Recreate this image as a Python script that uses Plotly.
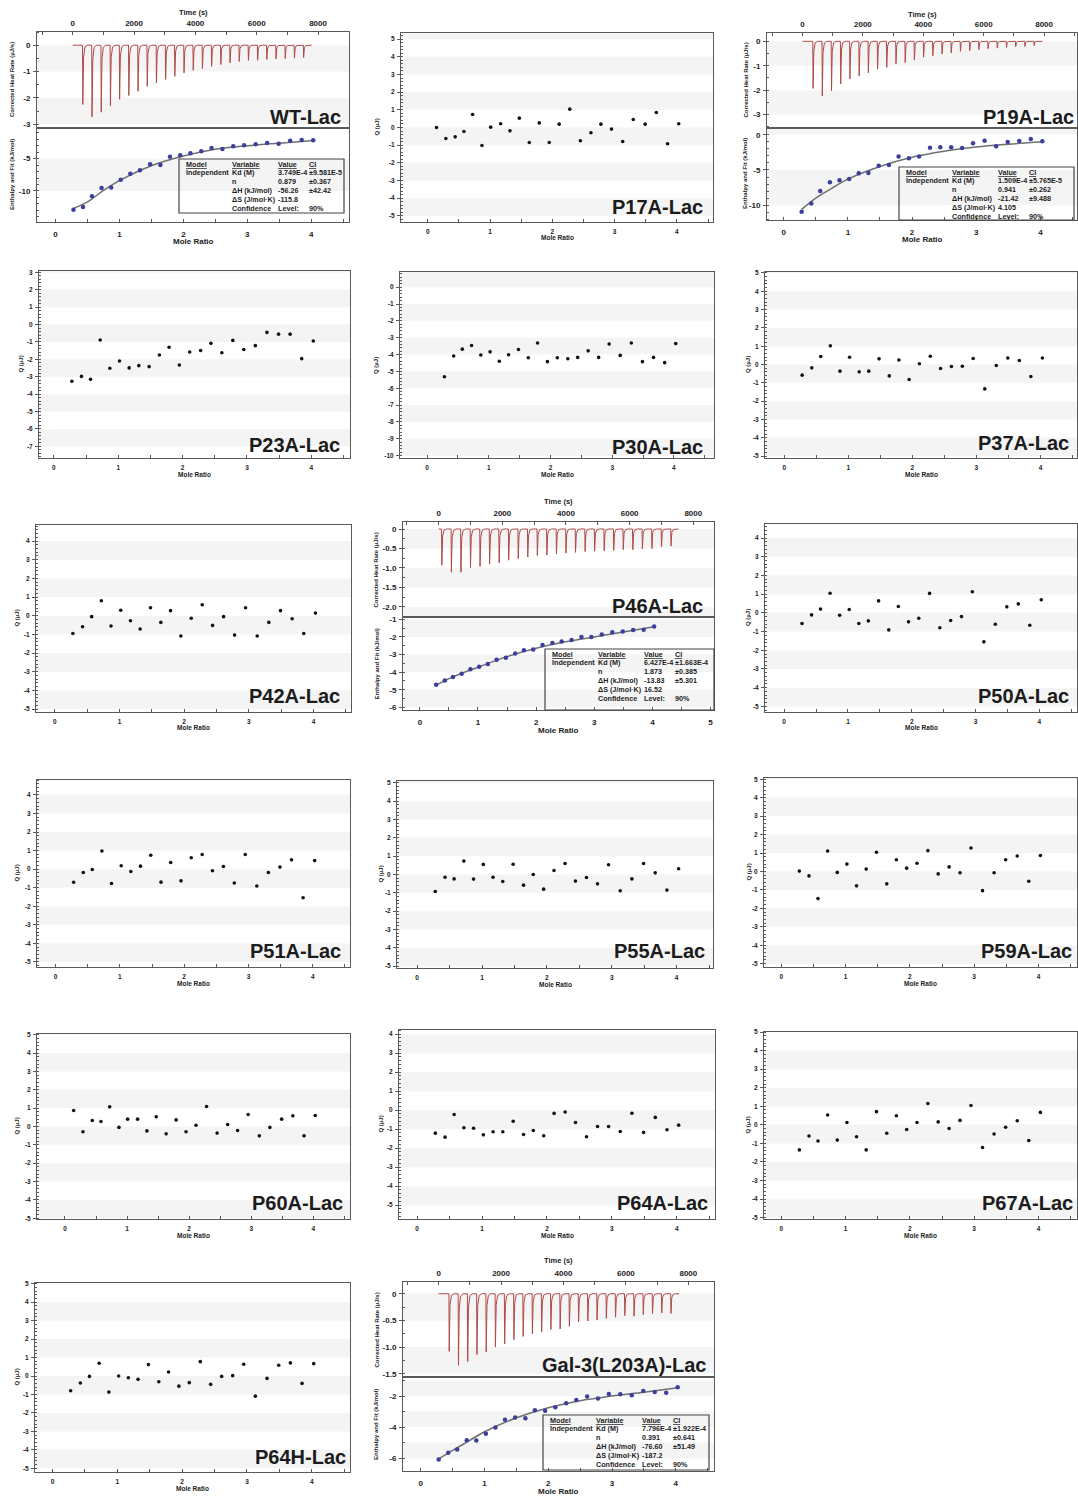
import math
import plotly.graph_objects as go

# ------------------------------------------------------------------ data
MR24 = [0.28, 0.43, 0.57, 0.72, 0.87, 1.02, 1.17, 1.32, 1.48, 1.64, 1.79, 1.95,
        2.11, 2.28, 2.44, 2.61, 2.78, 2.95, 3.13, 3.31, 3.49, 3.67, 3.85, 4.03]
MR25 = [0.14, 0.29, 0.44, 0.58, 0.72, 0.87, 1.01, 1.17, 1.32, 1.47, 1.63, 1.79, 1.95,
        2.11, 2.28, 2.45, 2.62, 2.78, 2.95, 3.13, 3.30, 3.49, 3.67, 3.85, 4.03]

P17A_Q = [0.0, -0.62, -0.53, -0.23, 0.74, -1.02, 0.02, 0.21, -0.19, 0.53, -0.85, 0.26, -0.85,
          0.19, 1.04, -0.75, -0.30, 0.19, -0.09, -0.79, 0.45, 0.19, 0.85, -0.92, 0.21]
P23A_Q = [-3.26, -2.98, -3.15, -0.89, -2.51, -2.09, -2.49, -2.36, -2.42, -1.75, -1.30, -2.32,
          -1.58, -1.49, -1.08, -1.62, -0.91, -1.43, -1.21, -0.45, -0.55, -0.55, -1.96, -0.94]
P30A_Q = [-5.32, -4.09, -3.68, -3.46, -4.03, -3.84, -4.40, -4.01, -3.70, -4.19, -3.31, -4.42,
          -4.19, -4.25, -4.17, -3.78, -4.17, -3.37, -4.05, -3.31, -4.42, -4.17, -4.48, -3.35]
P37A_Q = [-0.58, -0.18, 0.44, 1.02, -0.36, 0.40, -0.40, -0.36, 0.31, -0.62, 0.25, -0.82,
          0.04, 0.45, -0.22, -0.11, -0.09, 0.33, -1.33, -0.05, 0.36, 0.22, -0.65, 0.36]
P42A_Q = [-0.95, -0.59, -0.05, 0.80, -0.55, 0.29, -0.27, -0.71, 0.43, -0.36, 0.27, -1.09,
          -0.14, 0.59, -0.52, -0.05, -1.04, 0.43, -1.09, -0.36, 0.27, -0.16, -0.95, 0.14]
P50A_Q = [-0.57, -0.11, 0.20, 1.05, -0.13, 0.18, -0.57, -0.43, 0.64, -0.91, 0.34, -0.48,
          -0.29, 1.04, -0.80, -0.41, -0.20, 1.13, -1.55, -0.61, 0.32, 0.48, -0.66, 0.70]
P51A_Q = [-0.71, -0.18, -0.02, 0.98, -0.77, 0.18, -0.13, 0.16, 0.75, -0.70, 0.36, -0.63,
          0.61, 0.79, -0.09, 0.14, -0.75, 0.79, -0.91, -0.18, 0.11, 0.50, -1.54, 0.46]
P55A_Q = [-0.93, -0.15, -0.24, 0.73, -0.25, 0.55, -0.15, -0.38, 0.56, -0.58, 0.0, -0.80,
          0.22, 0.60, -0.36, -0.16, -0.51, 0.53, -0.89, -0.24, 0.60, 0.09, -0.85, 0.31]
P59A_Q = [0.02, -0.24, -1.47, 1.11, -0.05, 0.40, -0.78, 0.13, 1.04, -0.67, 0.64, 0.18,
          0.45, 1.13, -0.13, 0.25, -0.07, 1.27, -1.04, -0.07, 0.64, 0.84, -0.53, 0.87]
P60A_Q = [0.87, -0.29, 0.33, 0.27, 1.07, -0.05, 0.40, 0.40, -0.24, 0.53, -0.40, 0.36, -0.29,
          0.07, 1.09, -0.36, 0.11, -0.22, 0.65, -0.51, -0.05, 0.40, 0.58, -0.51, 0.60]
P64A_Q = [-1.21, -1.42, -0.23, -0.93, -0.95, -1.30, -1.14, -1.14, -0.58, -1.28, -1.07, -1.35,
          -0.17, -0.10, -0.65, -1.40, -0.86, -0.86, -1.12, -0.16, -1.17, -0.38, -1.03, -0.79]
P67A_Q = [-1.35, -0.60, -0.87, 0.53, -0.82, 0.13, -0.64, -1.35, 0.71, -0.45, 0.49, -0.25,
          0.13, 1.15, 0.16, -0.20, 0.24, 1.04, -1.22, -0.49, -0.13, 0.22, -0.84, 0.67]
P64H_Q = [-0.80, -0.38, -0.02, 0.69, -0.87, 0.0, -0.09, -0.18, 0.62, -0.31, 0.22, -0.55,
          -0.36, 0.78, -0.45, -0.02, 0.02, 0.64, -1.09, -0.13, 0.58, 0.71, -0.40, 0.67]

# ITC raw thermograms: injection times (s) and peak heat rates (uJ/s)
WT_INJ_T = [320, 620, 920, 1220, 1520, 1820, 2120, 2420, 2720, 3020, 3320, 3620, 3920,
            4220, 4520, 4820, 5120, 5420, 5720, 6020, 6320, 6620, 6920, 7220, 7520]
WT_INJ_PEAK = [-2.25, -2.72, -2.54, -2.29, -2.05, -1.91, -1.75, -1.56, -1.43, -1.30, -1.18,
               -1.05, -0.95, -0.89, -0.80, -0.73, -0.67, -0.62, -0.58, -0.57, -0.54, -0.52,
               -0.51, -0.49, -0.47]
WT_RUN_END = 7790
P19A_INJ_T = [340, 645, 950, 1255, 1560, 1865, 2170, 2475, 2780, 3085, 3390, 3695, 4000,
              4305, 4610, 4915, 5220, 5525, 5830, 6135, 6440, 6745, 7050, 7355, 7660]
P19A_INJ_PEAK = [-1.93, -2.24, -2.02, -1.75, -1.54, -1.42, -1.29, -1.14, -1.07, -0.92, -0.87,
                 -0.76, -0.65, -0.59, -0.52, -0.48, -0.41, -0.39, -0.34, -0.30, -0.28, -0.25,
                 -0.22, -0.21, -0.17]
P19A_RUN_END = 7950
P46A_INJ_T = [90, 390, 690, 990, 1290, 1590, 1890, 2190, 2490, 2790, 3090, 3390, 3690,
              3990, 4290, 4590, 4890, 5190, 5490, 5790, 6090, 6390, 6690, 6990, 7290]
P46A_INJ_PEAK = [-0.93, -1.11, -1.11, -0.99, -0.96, -0.90, -0.87, -0.80, -0.76, -0.72, -0.68,
                 -0.67, -0.64, -0.62, -0.60, -0.58, -0.57, -0.56, -0.55, -0.53, -0.53, -0.51,
                 -0.50, -0.46, -0.44]
P46A_RUN_END = 7530
GAL3_INJ_T = [330, 626, 922, 1218, 1514, 1810, 2106, 2402, 2698, 2994, 3290, 3586, 3882,
              4178, 4474, 4770, 5066, 5362, 5658, 5954, 6250, 6546, 6842, 7138, 7434]
GAL3_INJ_PEAK = [-1.08, -1.34, -1.27, -1.14, -1.09, -1.00, -0.94, -0.86, -0.80, -0.75, -0.72,
                 -0.67, -0.66, -0.61, -0.53, -0.51, -0.49, -0.46, -0.44, -0.41, -0.42, -0.39,
                 -0.37, -0.36, -0.37]
GAL3_RUN_END = 7700

# integrated enthalpies (kJ/mol) vs mole ratio and fitted curves
WT_DH = [-12.89, -12.47, -10.82, -9.54, -9.48, -8.25, -7.32, -6.80, -5.88, -5.98, -4.69, -4.48,
         -4.18, -3.87, -3.35, -3.50, -3.09, -2.94, -2.78, -2.58, -2.68, -2.22, -2.11, -2.16]
P19A_DH = [-10.94, -9.76, -7.97, -6.75, -6.46, -6.27, -5.47, -5.42, -4.39, -4.29, -3.11, -3.35,
           -3.11, -1.84, -1.79, -1.79, -1.89, -1.23, -0.85, -1.65, -1.04, -0.90, -0.61, -0.94]
P46A_DH = [-4.72, -4.48, -4.28, -4.09, -3.83, -3.70, -3.54, -3.30, -3.19, -2.94, -2.76, -2.72,
           -2.46, -2.35, -2.26, -2.17, -2.00, -2.00, -1.87, -1.74, -1.70, -1.61, -1.59, -1.41]
GAL3_DH = [-6.09, -5.66, -5.45, -4.85, -4.87, -4.43, -4.02, -3.53, -3.38, -3.43, -2.91, -2.94,
           -2.72, -2.47, -2.26, -2.02, -2.15, -1.87, -1.89, -1.94, -1.68, -1.74, -1.79, -1.43]
FIT_X = [0.28, 0.5, 0.75, 1.0, 1.5, 2.0, 2.5, 3.0, 3.5, 4.03]
WT_FIT = [-12.7, -11.7, -9.9, -8.4, -6.1, -4.6, -3.55, -3.0, -2.6, -2.2]
P19A_FIT = [-10.6, -9.0, -7.6, -6.3, -4.5, -3.2, -2.35, -1.75, -1.35, -1.0]
P46A_FIT = [-4.75, -4.37, -4.03, -3.72, -3.12, -2.65, -2.28, -2.0, -1.72, -1.42]
GAL3_FIT = [-6.05, -5.5, -4.9, -4.3, -3.4, -2.75, -2.3, -2.0, -1.75, -1.47]

# fit result tables
TABLE_HEAD = ["Model", "Variable", "Value", "CI"]
TABLE_VARS = ["Kd (M)", "n", "ΔH (kJ/mol)", "ΔS (J/mol·K)", "Confidence"]
WT_VALUES = ["3.749E-4", "0.879", "-56.26", "-115.8", "Level:"]
WT_CI = ["±9.581E-5", "±0.367", "±42.42", "", "90%"]
P19A_VALUES = ["1.509E-4", "0.941", "-21.42", "4.105", "Level:"]
P19A_CI = ["±5.765E-5", "±0.262", "±9.488", "", "90%"]
P46A_VALUES = ["6.427E-4", "1.873", "-13.83", "16.52", "Level:"]
P46A_CI = ["±1.663E-4", "±0.385", "±5.301", "", "90%"]
GAL3_VALUES = ["7.796E-4", "0.391", "-76.60", "-187.2", "Level:"]
GAL3_CI = ["±1.922E-4", "±0.641", "±51.49", "", "90%"]

# ------------------------------------------------------------------ style / layout
W, H = 1078, 1496
FONT = "Liberation Sans, Arial, sans-serif"
AXC = "#5a5a5a"
BANDC = "#f4f4f4"
TXT = "#1c1c1c"


def fx(p):
    return p / W


def fy(p):
    return 1 - p / H


def tick_list(lo, hi, step, dec):
    vals, texts = [], []
    for k in range(math.ceil(lo / step - 1e-9), math.floor(hi / step + 1e-9) + 1):
        v = round(k * step, 6)
        vals.append(v)
        texts.append("0" if abs(v) < 1e-9 else f"{v:.{dec}f}")
    return vals, texts


fig = go.Figure()
layout_axes = {}
shapes = []
annotations = []
counter = [0]


def new_axes(xpx, ypx, xr, yr, xstep, xminor, xdec, ystep, yminor, ydec,
             xside="bottom", tfs=6.5, xstand=3):
    counter[0] += 1
    n = counter[0]
    sx = "" if n == 1 else str(n)
    xv, xt = tick_list(xr[0], xr[1], xstep, xdec)
    yv, yt = tick_list(yr[0], yr[1], ystep, ydec)
    tf = dict(family=FONT, size=tfs, color=TXT, weight="bold")
    layout_axes["xaxis" + sx] = dict(
        domain=[fx(xpx[0]), fx(xpx[1])], range=list(xr), anchor="y" + sx, side=xside,
        showline=True, linecolor=AXC, linewidth=1, mirror=True, showgrid=False,
        zeroline=False, tickmode="array", tickvals=xv, ticktext=xt,
        ticks="inside", ticklen=3, tickcolor=AXC,
        ticklabelstandoff=xstand, tickfont=tf,
        minor=dict(tickmode="linear", tick0=0, dtick=xminor, ticks="inside", ticklen=3,
                   tickcolor=AXC, showgrid=False))
    layout_axes["yaxis" + sx] = dict(
        domain=[fy(ypx[1]), fy(ypx[0])], range=list(yr), anchor="x" + sx,
        showline=True, linecolor=AXC, linewidth=1, mirror=True, showgrid=False,
        zeroline=False, tickmode="array", tickvals=yv, ticktext=yt,
        ticks="outside", ticklen=3, tickcolor=AXC, ticklabelstandoff=1, tickfont=tf,
        minor=dict(tickmode="linear", tick0=0, dtick=yminor, ticks="inside", ticklen=2,
                   tickcolor=AXC, showgrid=False))
    return "x" + sx, "y" + sx


def add_bands(xref, yref, yr, start, step):
    for k in range(-30, 30):
        a = start + 2 * k * step
        b = a + step
        a2, b2 = max(a, yr[0]), min(b, yr[1])
        if b2 > a2:
            shapes.append(dict(type="rect", xref=xref + " domain", yref=yref, x0=0, x1=1,
                               y0=a2, y1=b2, fillcolor=BANDC, line=dict(width=0),
                               layer="below"))


def text(x, y, s, size, bold=True, angle=0, xanchor="center", yanchor="middle"):
    annotations.append(dict(x=fx(x), y=fy(y), xref="paper", yref="paper", text=s,
                            showarrow=False, textangle=angle, xanchor=xanchor,
                            yanchor=yanchor,
                            font=dict(family=FONT, size=size, color=TXT,
                                      weight="bold" if bold else "normal")))


# ------------------------------------------------------------------ Q panels
Q_PANELS = [
    dict(name="P17A-Lac", mr=MR25, q=P17A_Q, x=(401, 713), y=(33, 222), xr=(-0.43, 4.58), yr=(-5.35, 5.35), band=-5, lab=(705, 207), yt=24),
    dict(name="P23A-Lac", mr=MR24, q=P23A_Q, x=(39, 350), y=(271, 458), xr=(-0.23, 4.60), yr=(-7.67, 3.08), band=-7, lab=(342, 445), yt=19),
    dict(name="P30A-Lac", mr=MR24, q=P30A_Q, x=(400, 714), y=(272, 458), xr=(-0.44, 4.65), yr=(-10.14, 0.90), band=-10, lab=(705, 447), yt=24),
    dict(name="P37A-Lac", mr=MR24, q=P37A_Q, x=(765, 1077), y=(272, 458), xr=(-0.30, 4.57), yr=(-5.10, 5.05), band=-5, lab=(1071, 443), yt=17),
    dict(name="P42A-Lac", mr=MR24, q=P42A_Q, x=(36, 351), y=(525, 712), xr=(-0.29, 4.58), yr=(-5.16, 4.86), band=-5, lab=(342, 696), yt=20),
    dict(name="P50A-Lac", mr=MR24, q=P50A_Q, x=(765, 1077), y=(524, 712), xr=(-0.30, 4.59), yr=(-5.30, 4.75), band=-5, lab=(1071, 696), yt=17),
    dict(name="P51A-Lac", mr=MR24, q=P51A_Q, x=(37, 350), y=(780, 967), xr=(-0.29, 4.58), yr=(-5.27, 4.80), band=-5, lab=(343, 951), yt=21),
    dict(name="P55A-Lac", mr=MR24, q=P55A_Q, x=(397, 713), y=(781, 968), xr=(-0.31, 4.56), yr=(-5.10, 5.10), band=-5, lab=(707, 951), yt=17),
    dict(name="P59A-Lac", mr=MR24, q=P59A_Q, x=(764, 1077), y=(778, 967), xr=(-0.27, 4.60), yr=(-5.18, 5.07), band=-5, lab=(1074, 951), yt=16),
    dict(name="P60A-Lac", mr=MR25, q=P60A_Q, x=(37, 350), y=(1034, 1219), xr=(-0.45, 4.59), yr=(-5.04, 5.04), band=-5, lab=(345, 1203), yt=21),
    dict(name="P64A-Lac", mr=MR24, q=P64A_Q, x=(399, 715), y=(1030, 1219), xr=(-0.28, 4.59), yr=(-5.73, 4.22), band=-5, lab=(710, 1203), yt=19),
    dict(name="P67A-Lac", mr=MR24, q=P67A_Q, x=(764, 1077), y=(1032, 1219), xr=(-0.27, 4.60), yr=(-5.07, 5.00), band=-5, lab=(1075, 1203), yt=17),
    dict(name="P64H-Lac", mr=MR24, q=P64H_Q, x=(35, 350), y=(1283, 1472), xr=(-0.27, 4.59), yr=(-5.20, 5.04), band=-5, lab=(348, 1457), yt=19),
]

for p in Q_PANELS:
    xa, ya = new_axes(p["x"], p["y"], p["xr"], p["yr"], 1, 0.5, 0, 1, 0.2, 0)
    add_bands(xa, ya, p["yr"], p["band"], 1)
    fig.add_trace(go.Scatter(x=p["mr"], y=p["q"], mode="markers", xaxis=xa, yaxis=ya,
                             marker=dict(color="#111111", size=3.6), showlegend=False))
    text(p["lab"][0], p["lab"][1], p["name"], 20, xanchor="right")
    text(p["x"][0] - p["yt"], (p["y"][0] + p["y"][1]) / 2, "Q (µJ)", 6, angle=-90)
    text((p["x"][0] + p["x"][1]) / 2, p["y"][1] + 16, "Mole Ratio", 6.5)

# ------------------------------------------------------------------ ITC panels
ITC_PANELS = [
    dict(name="WT-Lac", x=(37, 349), yt=(32, 128), yb=(128, 222),
         tr=(-1164, 9009), tyr=(-3.14, 0.50), tstep=1, tdec=0, tminor=0.5, tband=-3, tbstep=1,
         mrr=(-0.29, 4.59), byr=(-14.8, -0.26), bstep=5, bdec=0, bminor=1, bband=-10, bbstep=5,
         inj_t=WT_INJ_T, inj_p=WT_INJ_PEAK, end=WT_RUN_END, dh=WT_DH, fit=WT_FIT,
         vals=WT_VALUES, ci=WT_CI, lab=(343, 117), box=(179, 159, 344, 213), yoff=25, toff=19),
    dict(name="P19A-Lac", x=(767, 1077), yt=(33, 128), yb=(128, 220),
         tr=(-1176, 9090), tyr=(-3.55, 0.34), tstep=1, tdec=0, tminor=0.5, tband=-3, tbstep=1,
         mrr=(-0.26, 4.57), byr=(-12.1, 0.95), bstep=5, bdec=0, bminor=1, bband=-10, bbstep=5,
         inj_t=P19A_INJ_T, inj_p=P19A_INJ_PEAK, end=P19A_RUN_END, dh=P19A_DH, fit=P19A_FIT,
         vals=P19A_VALUES, ci=P19A_CI, lab=(1076, 117), box=(899, 167, 1074, 220), yoff=22, toff=18),
    dict(name="P46A-Lac", x=(403, 714), yt=(522, 617), yb=(617, 710),
         tr=(-1120, 8650), tyr=(-2.26, 0.18), tstep=0.5, tdec=1, tminor=0.25, tband=-2.5, tbstep=0.5,
         mrr=(-0.29, 5.06), byr=(-6.15, -0.87), bstep=1, bdec=0, bminor=0.5, bband=-6, bbstep=1,
         inj_t=P46A_INJ_T, inj_p=P46A_INJ_PEAK, end=P46A_RUN_END, dh=P46A_DH, fit=P46A_FIT,
         vals=P46A_VALUES, ci=P46A_CI, lab=(705, 606), box=(545, 649, 714, 710), yoff=27, toff=21),
    dict(name="Gal-3(L203A)-Lac", x=(403, 714), yt=(1282, 1377), yb=(1377, 1471),
         tr=(-1141, 8822), tyr=(-1.56, 0.22), tstep=0.5, tdec=1, tminor=0.25, tband=-1.5, tbstep=0.5,
         mrr=(-0.28, 4.60), byr=(-6.83, -0.77), bstep=2, bdec=0, bminor=1, bband=-6, bbstep=1,
         inj_t=GAL3_INJ_T, inj_p=GAL3_INJ_PEAK, end=GAL3_RUN_END, dh=GAL3_DH, fit=GAL3_FIT,
         vals=GAL3_VALUES, ci=GAL3_CI, lab=(709, 1365), box=(543, 1415, 709, 1470), yoff=27, toff=22),
]


def thermogram(times, peaks, end):
    xs, ys = [0.0], [0.0]
    for t, pk in zip(times, peaks):
        xs += [t, t + 10, t + 35, t + 80, t + 160]
        ys += [0.0, pk, pk * 0.2, pk * 0.03, 0.0]
    xs.append(end)
    ys.append(0.0)
    return xs, ys


COL_OFF = [5, 51, 97, 128]

for p in ITC_PANELS:
    # raw heat rate (top)
    xa, ya = new_axes(p["x"], p["yt"], p["tr"], p["tyr"], 2000, 1000, 0,
                      p["tstep"], p["tminor"], p["tdec"], xside="top", tfs=8, xstand=2)
    add_bands(xa, ya, p["tyr"], p["tband"], p["tbstep"])
    tx, ty = thermogram(p["inj_t"], p["inj_p"], p["end"])
    fig.add_trace(go.Scatter(x=tx, y=ty, mode="lines", xaxis=xa, yaxis=ya,
                             line=dict(color="#b04a47", width=1), showlegend=False))
    # integrated enthalpy (bottom)
    xb, yb = new_axes(p["x"], p["yb"], p["mrr"], p["byr"], 1, 0.5, 0,
                      p["bstep"], p["bminor"], p["bdec"], tfs=8, xstand=4)
    add_bands(xb, yb, p["byr"], p["bband"], p["bbstep"])
    fig.add_trace(go.Scatter(x=FIT_X, y=p["fit"], mode="lines", xaxis=xb, yaxis=yb,
                             line=dict(color="#707070", width=1.5, shape="spline"),
                             showlegend=False))
    fig.add_trace(go.Scatter(x=MR24, y=p["dh"], mode="markers", xaxis=xb, yaxis=yb,
                             marker=dict(color="#3c3f9c", size=4.5), showlegend=False))
    # labels
    text(p["lab"][0], p["lab"][1], p["name"], 20, xanchor="right")
    xc = (p["x"][0] + p["x"][1]) / 2
    text(xc, p["yt"][0] - p["toff"], "Time (s)", 7.5)
    text(xc, p["yb"][1] + 20, "Mole Ratio", 8)
    text(p["x"][0] - p["yoff"], (p["yt"][0] + p["yt"][1]) / 2,
         "Corrected Heat Rate (µJ/s)", 6, angle=-90)
    text(p["x"][0] - p["yoff"], (p["yb"][0] + p["yb"][1]) / 2,
         "Enthalpy and Fit (kJ/mol)", 6, angle=-90)
    # fit table
    bx0, by0, bx1, by1 = p["box"]
    shapes.append(dict(type="rect", xref="paper", yref="paper", x0=fx(bx0), x1=fx(bx1),
                       y0=fy(by1), y1=fy(by0), line=dict(color="#444444", width=1.2),
                       fillcolor="rgba(0,0,0,0)", layer="above"))
    rows = [["<u>%s</u>" % h for h in TABLE_HEAD]]
    for i, var in enumerate(TABLE_VARS):
        rows.append(["Independent" if i == 0 else "", var, p["vals"][i], p["ci"][i]])
    for r, row in enumerate(rows):
        for c, cell in enumerate(row):
            if cell:
                text(bx0 + COL_OFF[c], by0 + 5 + r * 8.9, cell, 7.2, xanchor="left")

fig.update_layout(
    template="none",
    width=W, height=H, margin=dict(l=0, r=0, t=0, b=0),
    paper_bgcolor="white", plot_bgcolor="white", showlegend=False,
    shapes=shapes, annotations=annotations, **layout_axes)

fig.write_html("out.html", config={"displayModeBar": False})
